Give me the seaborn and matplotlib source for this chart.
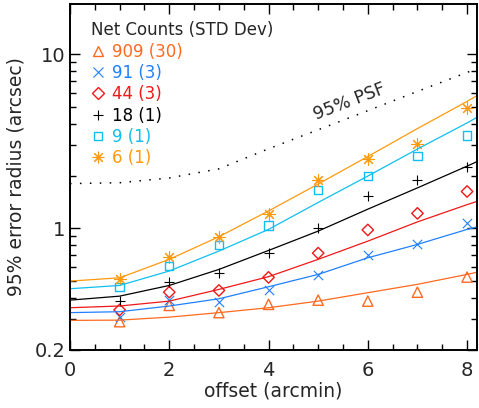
import numpy as np
import pandas as pd
import matplotlib
matplotlib.use("Agg")
import matplotlib.pyplot as plt
import seaborn as sns
from matplotlib.lines import Line2D
from matplotlib.ticker import LogLocator, NullFormatter, MultipleLocator

# measured offsets (arcmin)
offset = [1, 2, 3, 4, 5, 6, 7, 8]

# 95% error radius (arcsec) for each net-count group
r909 = [0.291, 0.361, 0.328, 0.366, 0.387, 0.382, 0.43, 0.525]
r91 = [0.309, 0.387, 0.377, 0.442, 0.537, 0.70, 0.81, 1.08]
r44 = [0.34, 0.43, 0.44, 0.523, 0.721, 0.98, 1.22, 1.63]
r18 = [0.382, 0.491, 0.551, 0.718, 1.0, 1.53, 1.90, 2.25]
r9 = [0.46, 0.607, 0.80, 1.04, 1.66, 2.0, 2.6, 3.42]
r6 = [0.514, 0.687, 0.896, 1.21, 1.90, 2.49, 3.07, 4.94]

# fitted curves, read along offset
fit_x = [0, 1, 2, 3, 4, 5, 6, 7, 8, 8.2]
f909 = [0.296, 0.297, 0.309, 0.328, 0.35, 0.382, 0.427, 0.477, 0.544, 0.56]
f91 = [0.328, 0.332, 0.358, 0.394, 0.462, 0.544, 0.678, 0.809, 0.987, 1.02]
f44 = [0.35, 0.358, 0.382, 0.446, 0.528, 0.664, 0.845, 1.09, 1.37, 1.43]
f18 = [0.387, 0.408, 0.47, 0.581, 0.747, 0.965, 1.29, 1.71, 2.28, 2.42]
f9 = [0.45, 0.47, 0.569, 0.741, 0.987, 1.41, 2.0, 2.86, 4.04, 4.35]
f6 = [0.498, 0.52, 0.664, 0.896, 1.26, 1.80, 2.59, 3.75, 5.37, 5.8]

# 95% PSF radius
psf = [1.81, 1.83, 1.95, 2.2, 2.87, 3.69, 4.75, 6.13, 7.88, 8.3]

labels = ["909 (30)", "91 (3)", "44 (3)", "18 (1)", "9 (1)", "6 (1)"]
colors = ["#FF6A1F", "#2080FF", "#F01818", "black", "#10BFF0", "#FF9A10"]
markers = ["^", "x", "D", "+", "s", (8, 2, 0)]
filled = [True, False, True, False, True, False]
sizes = [55, 45, 34, 50, 36, 70]

points = [r909, r91, r44, r18, r9, r6]
fits = [f909, f91, f44, f18, f9, f6]

sns.set_style("ticks")
plt.rcParams["font.family"] = ["DejaVu Sans"]

fig = plt.figure(figsize=(4.79, 4.08), dpi=100)
ax = fig.add_axes([70 / 479, 1 - 350 / 408, 407 / 479, 346 / 408])

for y_fit, c in zip(fits, colors):
    sns.lineplot(x=fit_x, y=y_fit, color=c, lw=0.9, ax=ax, sort=False)

sns.lineplot(x=fit_x, y=psf, color="black", lw=1.1, ax=ax, sort=False,
             linestyle=(0, (1, 5.5)))

handles = []
for y_pts, c, m, f, s in zip(points, colors, markers, filled, sizes):
    if f:
        sns.scatterplot(x=offset, y=y_pts, marker=m, s=s, facecolors="none",
                        edgecolors=c, linewidths=1.0, ax=ax)
        h = Line2D([], [], ls="", marker=m, markersize=np.sqrt(s),
                   markerfacecolor="none", markeredgecolor=c, mew=1.0)
    else:
        sns.scatterplot(x=offset, y=y_pts, marker=m, s=s, color=c,
                        linewidths=0.8, ax=ax)
        h = Line2D([], [], ls="", marker=m, markersize=np.sqrt(s),
                   color=c, mew=0.8)
    handles.append(h)

ax.set_yscale("log")
ax.set_xlim(0, 8.2)
ax.set_ylim(0.2, 19.5)
ax.set_yticks([0.2, 1, 10])
ax.set_yticklabels(["0.2", "1", "10"])
ax.yaxis.set_minor_locator(LogLocator(base=10, subs=np.arange(2, 10)))
ax.yaxis.set_minor_formatter(NullFormatter())
ax.xaxis.set_major_locator(MultipleLocator(2))
ax.xaxis.set_minor_locator(MultipleLocator(0.5))

ax.tick_params(which="both", direction="in", top=True, right=True,
               left=True, bottom=True, width=1.0, labelsize=14, color="black")
ax.tick_params(which="major", length=7)
ax.tick_params(which="minor", length=4)
ax.tick_params(axis="x", pad=8)
for sp in ax.spines.values():
    sp.set_linewidth(1.4)
    sp.set_color("black")

ax.set_xlabel("offset (arcmin)", fontsize=13.5, labelpad=1)
ax.set_ylabel("95% error radius (arcsec)", fontsize=13.5, labelpad=6)

ax.text(5.63, 5.36, "95% PSF", fontsize=12.5, rotation=21,
        ha="center", va="center")

leg = ax.legend(handles, labels, title="Net Counts (STD Dev)",
                loc="upper left", bbox_to_anchor=(0.052, 0.95),
                frameon=False, fontsize=12, title_fontsize=12,
                alignment="left", handlelength=0.8, handletextpad=0.45,
                labelspacing=0.2, borderpad=0, borderaxespad=0,
                labelcolor=colors)

fig.savefig("out.png", dpi=100)
